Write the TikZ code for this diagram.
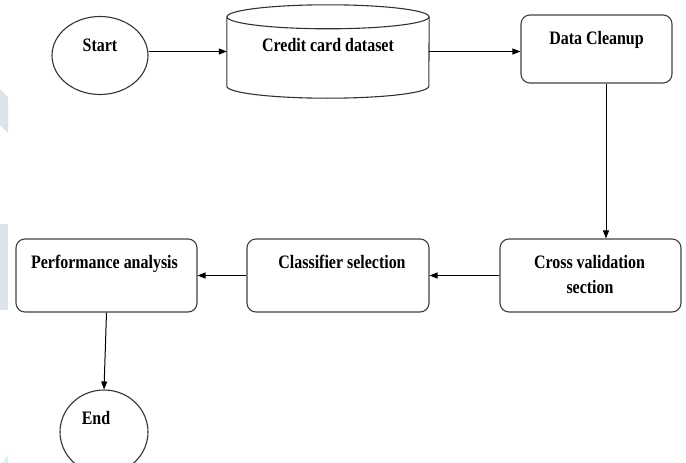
\documentclass[tikz,border=0pt]{standalone}
\usepackage{fontspec}
\setmainfont{Liberation Serif}[FakeStretch=0.84]
\usetikzlibrary{arrows.meta,positioning,shapes.geometric}

\definecolor{markgrey}{HTML}{DDE3E8}
\definecolor{markcyan}{HTML}{D6F3FA}

\tikzset{
  stepbox/.style={draw=black!75, line width=1.1pt, rounded corners=9pt,
    minimum width=181pt, minimum height=73pt, inner sep=0pt},
  oval/.style={ellipse, draw=black!80, line width=1.1pt, inner sep=0pt},
  shapeline/.style={draw=black!80, line width=1.1pt},
  boxtext/.style={font=\fontsize{19}{22}\selectfont\bfseries, anchor=base, inner sep=0pt},
  flow/.style={-{Triangle[length=8pt,width=6pt]}, line width=1pt}
}

\begin{document}
\begin{tikzpicture}[x=1pt, y=-1pt]
      \useasboundingbox (0,0) rectangle (686,463);
      % faint background fragments on the left edge
      \fill[markgrey] (0,89) -- (8,97) -- (8,133) -- (0,125) -- cycle;
      \fill[markgrey] (0,224) rectangle (8,310);
      \fill[markcyan] (2,463) -- (8,455) -- (8,463) -- cycle;

      % shapes
      \node[oval, minimum width=96pt, minimum height=78pt] (start) at (100,55.5) {};
      \node[minimum width=202pt, minimum height=93pt, inner sep=0pt] (dataset) at (328,51.5) {};
      \node[stepbox, minimum width=151pt, minimum height=68pt] (cleanup) at (596.5,49) {};
      \node[stepbox] (cross) at (590.5,275.5) {};
      \node[stepbox, minimum width=182pt] (classif) at (338,275.5) {};
      \node[stepbox] (perf) at (106.5,275.5) {};
      \node[oval, minimum width=88pt, minimum height=84pt] (end) at (104,432) {};

      % cylinder
      \draw[shapeline] ([yshift=-12pt]dataset.north west) -- ([yshift=12pt]dataset.south west)
        arc[start angle=180, end angle=360, x radius=101pt, y radius=12pt]
        -- ([yshift=-12pt]dataset.north east);
      \draw[shapeline] ([yshift=-12pt]dataset.north) ellipse[x radius=101pt, y radius=12pt];

      % texts
      \node[boxtext] (starttxt) at (100,51) {Start};
      \node[boxtext] (datasettxt) at (328,51) {Credit card dataset};
      \node[boxtext] (cleanuptxt) at (596.5,45) {Data Cleanup};
      \node[boxtext] (crosstxt) at (589.5,268) {Cross validation};
      \node[boxtext] (crosstxtb) at (590,293) {section};
      \node[boxtext] (classiftxt) at (342,268) {Classifier selection};
      \node[boxtext] (perftxt) at (104.5,268) {Performance analysis};
      \node[boxtext] (endtxt) at (96,424) {End};

      % connectors
      \draw[flow] (start.east |- dataset.west) -- (dataset.west);
      \draw[flow] (dataset.east) -- (dataset.east -| cleanup.west);
      \draw[flow] ([xshift=9.5pt]cleanup.south) -- ([xshift=9.5pt]cleanup.south |- cross.north);
      \draw[flow] (cross.west) -- (classif.east);
      \draw[flow] (classif.west) -- (perf.east);
      \draw[flow] (perf.south) -- (end.north);
\end{tikzpicture}
\end{document}
